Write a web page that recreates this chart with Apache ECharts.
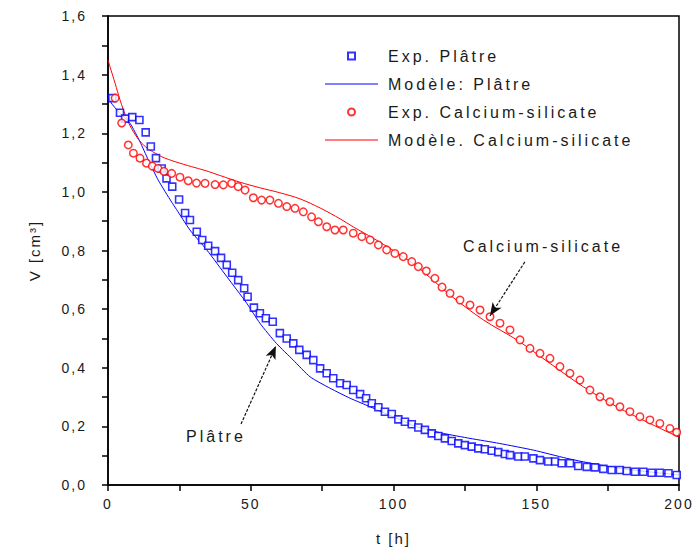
<!DOCTYPE html>
<html>
<head>
<meta charset="utf-8">
<script src="https://cdn.jsdelivr.net/npm/echarts@6/dist/echarts.min.js"></script>
<style>
html,body{margin:0;padding:0;background:#fff;}
#chart{width:694px;height:556px;}
#chart svg text{letter-spacing:2px;}
#chart svg text[style*="16px"]{letter-spacing:3px;}
</style>
</head>
<body>
<div id="chart"></div>
<script>
// ---- data (t in hours, V in cm^3) ----
const xTicks = [0, 50, 100, 150, 200];
const yTicks = [0, 0.2, 0.4, 0.6, 0.8, 1.0, 1.2, 1.4, 1.6];

const expPlatre = [
  [1.5,1.32],[4.2,1.27],[6,1.25],[8.5,1.255],[11,1.245],[13.2,1.203],[15,1.155],[16.8,1.115],
  [18.8,1.08],[20.5,1.046],[22.5,1.018],[24.9,0.974],[27.0,0.928],[28.7,0.904],[31.1,0.864],
  [33.0,0.836],[35.1,0.816],[37.5,0.798],[39.6,0.775],[41.6,0.751],[43.5,0.724],[45.6,0.699],
  [47.7,0.671],[48.9,0.642],[51.1,0.605],[53.2,0.586],[55.3,0.569],[57.7,0.557],[60.2,0.518],
  [62.6,0.500],[64.9,0.483],[67.0,0.461],[69.6,0.444],[71.9,0.426],[74.3,0.398],[76.6,0.381],
  [78.9,0.364],[81.3,0.347],[83.6,0.341],[85.9,0.324],[88.3,0.310],[90.4,0.296],[92.4,0.279],
  [94.7,0.265],[97.0,0.250],[99.4,0.242],[101.7,0.224],[104,0.216],[106.4,0.207],[108.7,0.196],
  [111,0.188],[113.4,0.176],[115.7,0.167],[118,0.159],[120.4,0.150],[122.7,0.142],[125,0.136],
  [127.4,0.131],[129.7,0.125],[132,0.122],[134.4,0.117],[136.7,0.112],[139,0.106],[140.8,0.102],
  [143.7,0.097],[146,0.097],[149,0.091],[151.3,0.085],[154.2,0.080],[156.6,0.080],[158.9,0.074],
  [161.8,0.074],[164.7,0.065],[167.7,0.062],[170.6,0.060],[173.5,0.055],[176.4,0.051],[179.3,0.051],
  [181.7,0.048],[184.6,0.045],[187.5,0.045],[190.4,0.042],[193.3,0.042],[196.3,0.040],[199.2,0.034]
];

const modelPlatre = [
  [0,1.33],[1,1.305],[4,1.27],[7.7,1.234],[11.2,1.171],[14.1,1.109],[17.6,1.04],[22.3,0.965],
  [24,0.94],[28.7,0.87],[34.6,0.802],[41.6,0.711],[48.6,0.62],[53.2,0.552],[59,0.483],[64.9,0.426],
  [70.8,0.369],[77.8,0.33],[84.8,0.296],[91.8,0.267],[99.9,0.233],[108,0.199],[117.5,0.176],
  [126.8,0.159],[137,0.142],[149,0.119],[160.7,0.091],[172.3,0.068],[184,0.051],[200,0.034]
];

const expCalcium = [
  [2.5,1.32],[4.8,1.235],[7.1,1.16],[8.9,1.132],[11.2,1.115],[13.5,1.098],[15.5,1.088],[17.5,1.08],
  [19.6,1.07],[22.3,1.063],[25.2,1.05],[28.1,1.038],[31,1.03],[34,1.029],[37.5,1.025],[40.4,1.024],
  [43.3,1.029],[45.6,1.018],[48,1.006],[50.9,0.98],[53.8,0.972],[56.7,0.972],[59.7,0.961],[62.6,0.95],
  [65.5,0.944],[68.4,0.932],[71.3,0.915],[73.7,0.898],[76.6,0.881],[79.5,0.87],[82.4,0.87],[85.9,0.859],
  [88.9,0.847],[91.8,0.836],[94.7,0.819],[97.6,0.802],[100.5,0.79],[103.4,0.779],[106.4,0.762],
  [108.7,0.745],[111.5,0.73],[114.5,0.705],[117,0.675],[119.8,0.654],[123.3,0.631],[126.8,0.614],
  [130.3,0.597],[133.8,0.574],[137.3,0.552],[140.8,0.529],[144.3,0.495],[147.8,0.466],[151.3,0.449],
  [154.8,0.432],[158.3,0.404],[161.8,0.381],[165.3,0.358],[168.8,0.324],[172.3,0.301],[175.8,0.284],
  [179.3,0.267],[182.8,0.25],[186.3,0.233],[189.8,0.222],[193.3,0.21],[196.8,0.193],[199.2,0.18]
];

const modelCalcium = [
  [0,1.45],[0.7,1.427],[2.5,1.37],[4.2,1.314],[6.5,1.251],[8.9,1.205],[11.8,1.166],[14.7,1.143],
  [18.8,1.12],[23.5,1.103],[29.3,1.086],[34,1.073],[39.5,1.055],[46.2,1.033],[53.2,1.014],
  [60.2,0.997],[67.3,0.976],[74.3,0.945],[81.3,0.908],[86,0.88],[92.9,0.842],[99.9,0.80],
  [106.9,0.755],[113,0.706],[119.8,0.648],[131.5,0.563],[143.2,0.495],[154.8,0.415],[166.5,0.335],
  [178.2,0.267],[189.8,0.21],[200,0.163]
];

const seriesNames = ['Exp. Plâtre', 'Modèle: Plâtre', 'Exp. Calcium-silicate', 'Modèle. Calcium-silicate'];
const annotationTexts = ['Calcium-silicate', 'Plâtre'];
const annotationPos = [[152.4, 0.815], [37.8, 0.164]];
const arrowCalcium = [[146, 0.761], [133.8, 0.577]];
const arrowPlatre = [[46.6, 0.208], [58.8, 0.474]];

// ---- chart ----
const FONT = '"Liberation Sans", Arial, sans-serif';
const TXT = '#1a1a1a';
const LINE_ICON = 'path://M0,0L60,0L60,1L0,1Z';
const SQUARE_ICON = 'path://M0,0L10,0L10,10L0,10Z';
const CIRCLE_ICON = 'path://M5,0A5,5,0,1,1,5,10A5,5,0,1,1,5,0Z';
const chart = echarts.init(document.getElementById('chart'), null, {renderer: 'svg'});

const arrowStyle = {color: '#111', width: 1.2, type: [3, 1.5]};

chart.setOption({
  animation: false,
  backgroundColor: '#fff',
  grid: {left: 108, right: 15, top: 16, bottom: 71, show: true, borderColor: '#000', borderWidth: 1.5, backgroundColor: 'transparent'},
  legend: {
    orient: 'vertical', left: 325, top: 48, padding: 0,
    itemWidth: 53, itemHeight: 7, itemGap: 12, symbolKeepAspect: true,
    textStyle: {fontFamily: FONT, fontSize: 16, color: TXT, padding: [0, 0, 0, 5]},
    data: [
      {name: seriesNames[0], icon: SQUARE_ICON, itemStyle: {color: '#fff', borderColor: '#0000ff', borderWidth: 2}},
      {name: seriesNames[1], icon: LINE_ICON},
      {name: seriesNames[2], icon: CIRCLE_ICON, itemStyle: {color: '#fff', borderColor: '#ff0000', borderWidth: 2}},
      {name: seriesNames[3], icon: LINE_ICON}
    ]
  },
  xAxis: {
    type: 'value', min: xTicks[0], max: xTicks[xTicks.length - 1], interval: 50,
    name: 't [h]', nameLocation: 'middle', nameGap: 46,
    nameTextStyle: {fontFamily: FONT, fontSize: 15, color: TXT},
    axisLine: {lineStyle: {color: '#000', width: 1.5}},
    axisTick: {show: true, inside: false, length: 6, lineStyle: {color: '#000', width: 1.5}},
    minorTick: {show: true, splitNumber: 2, length: 6, lineStyle: {color: '#000', width: 1.5}},
    splitLine: {show: false},
    axisLabel: {margin: 12, fontFamily: FONT, fontSize: 14, color: TXT, formatter: v => String(v)}
  },
  yAxis: {
    type: 'value', min: yTicks[0], max: yTicks[yTicks.length - 1], interval: 0.2,
    name: 'V [cm³]', nameLocation: 'middle', nameGap: 66, nameRotate: 90,
    nameTextStyle: {fontFamily: FONT, fontSize: 15, color: TXT},
    axisLine: {lineStyle: {color: '#000', width: 1.5}},
    axisTick: {show: true, inside: false, length: 6, lineStyle: {color: '#000', width: 1.5}},
    minorTick: {show: true, splitNumber: 2, length: 6, lineStyle: {color: '#000', width: 1.5}},
    splitLine: {show: false},
    axisLabel: {margin: 21, fontFamily: FONT, fontSize: 14, color: TXT, formatter: v => v.toFixed(1).replace('.', ',')}
  },
  series: [
    {
      name: seriesNames[0], type: 'scatter', data: expPlatre,
      symbol: 'rect', symbolSize: 7,
      itemStyle: {color: '#fff', borderColor: '#0000ff', borderWidth: 1.6},
      z: 4
    },
    {
      name: seriesNames[1], type: 'line', data: modelPlatre, showSymbol: false, symbol: 'none',
      lineStyle: {color: '#0000ff', width: 1}, itemStyle: {color: '#0000ff'}, smooth: 0.2, z: 3,
      markLine: {
        silent: true, symbol: ['none', 'arrow'], symbolSize: [8, 13], label: {show: false},
        lineStyle: arrowStyle,
        data: [[{coord: arrowPlatre[0]}, {coord: arrowPlatre[1]}]]
      },
      markPoint: {
        silent: true, symbol: 'circle', symbolSize: 1, itemStyle: {color: 'rgba(0,0,0,0)'},
        label: {show: true, position: 'inside', color: TXT, fontFamily: FONT, fontSize: 16, formatter: annotationTexts[1]},
        data: [{coord: annotationPos[1]}]
      }
    },
    {
      name: seriesNames[2], type: 'scatter', data: expCalcium,
      symbol: 'circle', symbolSize: 7.5,
      itemStyle: {color: '#fff', borderColor: '#ff0000', borderWidth: 1.5},
      z: 4
    },
    {
      name: seriesNames[3], type: 'line', data: modelCalcium, showSymbol: false, symbol: 'none',
      lineStyle: {color: '#ff0000', width: 1}, itemStyle: {color: '#ff0000'}, smooth: 0.3, z: 3,
      markLine: {
        silent: true, symbol: ['none', 'arrow'], symbolSize: [8, 13], label: {show: false},
        lineStyle: arrowStyle,
        data: [[{coord: arrowCalcium[0]}, {coord: arrowCalcium[1]}]]
      },
      markPoint: {
        silent: true, symbol: 'circle', symbolSize: 1, itemStyle: {color: 'rgba(0,0,0,0)'},
        label: {show: true, position: 'inside', color: TXT, fontFamily: FONT, fontSize: 16, formatter: annotationTexts[0]},
        data: [{coord: annotationPos[0]}]
      }
    }
  ]
});
</script>
</body>
</html>
